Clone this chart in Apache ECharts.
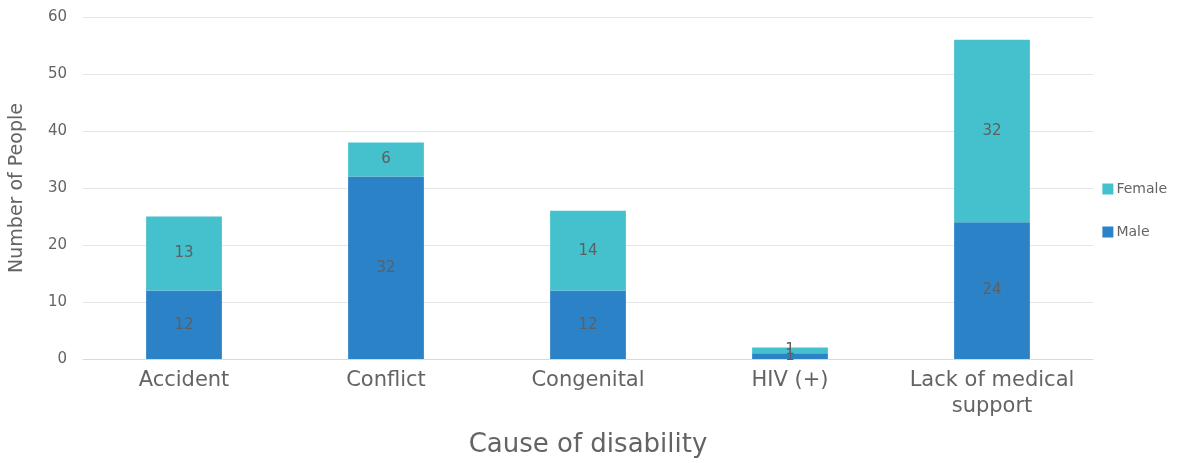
<!DOCTYPE html>
<html><head><meta charset="utf-8">
<script src="https://cdn.jsdelivr.net/npm/echarts@6/dist/echarts.min.js"></script>
<style>html,body{margin:0;padding:0;background:#fff}#c{width:1178px;height:463px}</style>
</head><body><div id="c"></div>
<script>
const categories = ['Accident', 'Conflict', 'Congenital', 'HIV (+)', 'Lack of medical\nsupport'];
const maleValues = [12, 32, 12, 1, 24];
const femaleValues = [13, 6, 14, 1, 32];
const yTicks = { min: 0, max: 60, interval: 10 };
const FONT = 'DejaVu Sans';
const TXT = '#646464';
const chart = echarts.init(document.getElementById('c'));
const lbl = { show: true, position: 'inside', color: '#5f5f5f', fontSize: 15, fontFamily: FONT };
chart.setOption({
  animation: false,
  grid: { left: 76, right: 85, top: 17, bottom: 102 },
  legend: {
    orient: 'vertical', right: 6, top: 177,
    data: ['Female', 'Male'],
    itemWidth: 11, itemHeight: 11, itemGap: 29,
    itemStyle: { borderWidth: 0 },
    textStyle: { color: TXT, fontSize: 14, fontFamily: FONT, padding: [0, 0, 0, -2] },
    icon: 'rect'
  },
  xAxis: {
    type: 'category', data: categories,
    name: 'Cause of disability', nameLocation: 'middle', nameGap: 73,
    nameTextStyle: { color: TXT, fontSize: 26, fontFamily: FONT },
    axisLine: { lineStyle: { color: '#d9d9d9' } },
    axisTick: { show: false },
    axisLabel: { color: TXT, fontSize: 21, fontFamily: FONT, margin: 9, lineHeight: 26, interval: 0 }
  },
  yAxis: {
    type: 'value', min: yTicks.min, max: yTicks.max, interval: yTicks.interval,
    name: 'Number of People', nameLocation: 'middle', nameGap: 56,
    nameTextStyle: { color: TXT, fontSize: 19, fontFamily: FONT },
    axisLine: { show: false }, axisTick: { show: false },
    axisLabel: { color: TXT, fontSize: 15, fontFamily: FONT, margin: 16 },
    splitLine: { lineStyle: { color: '#e6e6e6' } }
  },
  series: [
    { name: 'Male', type: 'bar', stack: 's', data: maleValues, barWidth: '37.5%',
      itemStyle: { color: '#2C82C6' }, label: lbl },
    { name: 'Female', type: 'bar', stack: 's', data: femaleValues, barWidth: '37.5%',
      itemStyle: { color: '#45C1CD' }, label: lbl }
  ]
});
</script></body></html>
